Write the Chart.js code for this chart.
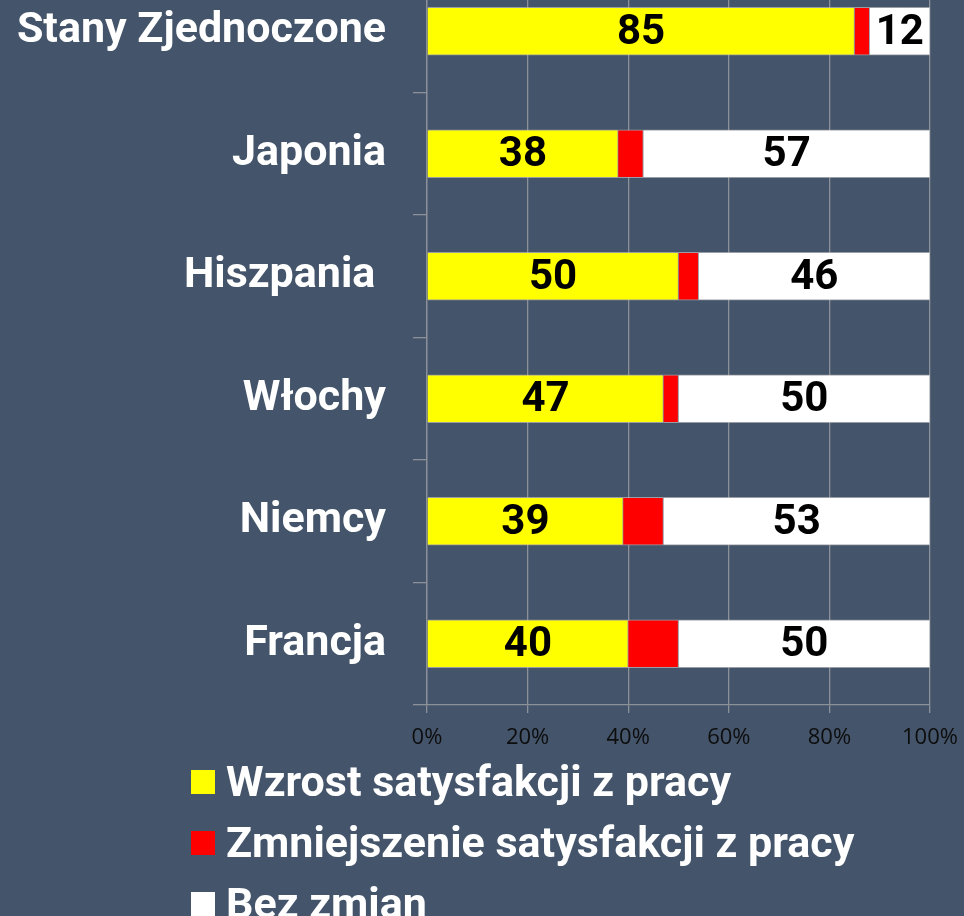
<!DOCTYPE html>
<html lang="pl">
<head>
<meta charset="utf-8">
<script src="https://cdn.jsdelivr.net/npm/chart.js@4.4.1/dist/chart.umd.min.js"></script>
<style>
    html, body { margin: 0; padding: 0; background: #44546A; }
    body { width: 964px; height: 916px; position: relative; overflow: hidden; }
    #wrap { position: absolute; left: 0; top: -30px; width: 964px; height: 785px; }
    #legend { position: absolute; left: 191px; top: 750px; font-family: Roboto, sans-serif; font-weight: bold; font-size: 43px; color: #fff; }
    .item { display: flex; align-items: center; height: 61px; white-space: nowrap; }
    .box { width: 24px; height: 24px; margin-right: 11px; margin-top: 2px; }
</style>
</head>
<body>
<div id="wrap"><canvas id="chart" width="964" height="785"></canvas></div>
<div id="legend"></div>

<script>
// Kategorie i dane (w procentach)
const countries = ["Stany Zjednoczone", "Japonia", "Hiszpania ", "Włochy", "Niemcy", "Francja"];
const wzrost = [85, 38, 50, 47, 39, 40];
const zmniejszenie = [3, 5, 4, 3, 8, 10];
const bezZmian = [12, 57, 46, 50, 53, 50];
const seriesNames = ["Wzrost satysfakcji z pracy", "Zmniejszenie satysfakcji z pracy", "Bez zmian"];
const seriesColors = ["#FFFF00", "#FF0000", "#FFFFFF"];
const xTicks = [0, 20, 40, 60, 80, 100];

const gridColor = "#8C9099";

// Etykiety wartości na słupkach (bez serii czerwonej)
const valueLabels = {
    id: "valueLabels",
    afterDatasetsDraw(chart) {
        const ctx = chart.ctx;
        ctx.save();
        ctx.font = "bold 42px Roboto";
        ctx.fillStyle = "#000";
        ctx.textAlign = "center";
        ctx.textBaseline = "middle";
        [0, 2].forEach(i => {
            const meta = chart.getDatasetMeta(i);
            meta.data.forEach((bar, j) => {
                const v = chart.data.datasets[i].data[j];
                const cx = (bar.x + bar.base) / 2;
                ctx.fillText(String(v), cx, bar.y + 2);
            });
        });
        ctx.restore();
    }
};

function renderChart() {
    new Chart(document.getElementById("chart"), {
        type: "bar",
        data: {
            labels: countries,
            datasets: [
                { label: seriesNames[0], data: wzrost, backgroundColor: seriesColors[0] },
                { label: seriesNames[1], data: zmniejszenie, backgroundColor: seriesColors[1] },
                { label: seriesNames[2], data: bezZmian, backgroundColor: seriesColors[2] }
            ].map(d => Object.assign(d, { barThickness: 48, borderWidth: 1, borderColor: "rgba(190,190,190,0.7)" }))
        },
        options: {
            indexAxis: "y",
            responsive: false,
            animation: false,
            layout: { padding: { left: 0, right: 34, top: 0, bottom: 0 } },
            plugins: {
                legend: { display: false },
                tooltip: { enabled: false }
            },
            scales: {
                x: {
                    stacked: true,
                    min: 0,
                    max: 100,
                    afterBuildTicks(scale) { scale.ticks = xTicks.map(v => ({ value: v })); },
                    afterFit(scale) { scale.height = 50; scale.paddingLeft = 0; scale.paddingRight = 0; },
                    grid: { color: gridColor, lineWidth: 1.3, tickLength: 8 },
                    border: { color: gridColor, width: 1.3 },
                    ticks: {
                        padding: 12,
                        color: "#0D0D0D",
                        font: { family: "'Open Sans'", size: 22 },
                        callback: v => v + "%"
                    }
                },
                y: {
                    stacked: true,
                    afterFit(scale) { scale.width = 427; scale.paddingTop = 0; scale.paddingBottom = 0; },
                    grid: { offset: true, drawOnChartArea: false, color: gridColor, lineWidth: 1.3, tickLength: 14 },
                    border: { color: gridColor, width: 1.3 },
                    ticks: {
                        padding: 27,
                        color: "#FFFFFF",
                        font: { family: "Roboto", size: 43, weight: "bold" }
                    }
                }
            }
        },
        plugins: [valueLabels]
    });
}

// Legenda pionowa, wyrównana do lewej
function renderLegend() {
    const el = document.getElementById("legend");
    seriesNames.forEach((name, i) => {
        const row = document.createElement("div");
        row.className = "item";
        row.innerHTML = `<span class="box" style="background:${seriesColors[i]}"></span><span>${name}</span>`;
        el.appendChild(row);
    });
}

document.fonts.load("bold 43px Roboto").then(() => {
    renderLegend();
    renderChart();
});
</script>
</body>
</html>
